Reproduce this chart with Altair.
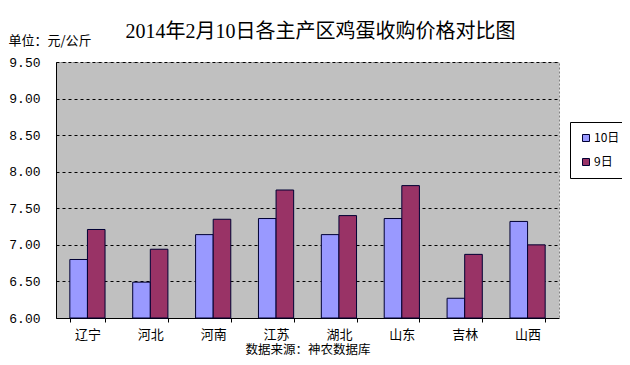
import altair as alt
import pandas as pd

regions = ["辽宁", "河北", "河南", "江苏", "湖北", "山东", "吉林", "山西"]
series_names = ["10日", "9日"]
d10 = [6.80, 6.49, 7.14, 7.36, 7.14, 7.36, 6.27, 7.32]
d9 = [7.21, 6.94, 7.35, 7.75, 7.40, 7.81, 6.87, 7.00]
y_ticks = [6.0, 6.5, 7.0, 7.5, 8.0, 8.5, 9.0, 9.5]
y_base = 6.0

rows = []
for r, a, b in zip(regions, d10, d9):
    rows.append({"region": r, "day": series_names[0], "price": a})
    rows.append({"region": r, "day": series_names[1], "price": b})
df = pd.DataFrame(rows)

cjk = "Noto Sans CJK SC"

chart = alt.Chart(df).mark_bar(stroke="#000033", strokeWidth=1).encode(
    x=alt.X("region:N", sort=regions,
            scale=alt.Scale(paddingInner=0.44, paddingOuter=0.22),
            axis=alt.Axis(title="数据来源：神农数据库", labelAngle=0,
                          labelFont=cjk, labelFontSize=13, labelColor="#000",
                          labelPadding=6, titleFont=cjk, titleFontSize=12.5,
                          titleFontWeight="normal", titlePadding=2, titleColor="#000",
                          domainColor="#000", tickColor="#000", tickSize=4,
                          tickBand="extent")),
    xOffset=alt.XOffset("day:N", sort=series_names),
    y=alt.Y("price:Q", scale=alt.Scale(domain=[6, 9.5], zero=False, nice=False),
            axis=alt.Axis(values=y_ticks, format=".2f", title="单位：元/公斤",
                          titleAngle=0, titleAlign="left", titleBaseline="middle",
                          titleX=-48, titleY=-22, titleFont=cjk, titleFontSize=13,
                          titleFontWeight="normal", titleColor="#000",
                          labelFont="Liberation Mono", labelFontSize=13,
                          labelColor="#000", labelPadding=16, ticks=False,
                          grid=True, gridColor="#000", gridDash=[3, 3],
                          gridWidth=1, domainColor="#000")),
    y2=alt.datum(y_base),
    color=alt.Color("day:N", sort=series_names,
                    scale=alt.Scale(domain=series_names, range=["#9999FF", "#993366"]),
                    legend=alt.Legend(title=None, orient="none", legendX=514, legendY=60,
                                      fillColor="#FFFFFF", strokeColor="#000",
                                      padding=10, rowPadding=12, symbolType="square",
                                      symbolSize=49, symbolStrokeColor="#000033",
                                      symbolStrokeWidth=1, labelFont=cjk,
                                      labelFontSize=12, labelColor="#000",
                                      labelOffset=2)),
).properties(
    width=503,
    height=256,
    autosize=alt.AutoSizeParams(type="none"),
    padding={"left": 48, "top": 54, "right": 63, "bottom": 39},
    title=alt.TitleParams("2014年2月10日各主产区鸡蛋收购价格对比图",
                          font="Liberation Serif, Noto Sans CJK SC", fontSize=20,
                          fontWeight="normal", color="#000", anchor="middle",
                          dx=13, dy=30, offset=22),
).configure_view(
    fill="#C0C0C0", stroke="#808080", strokeDash=[2, 2]
)

chart.save("out.html", embed_options={"renderer": "svg", "actions": False})
